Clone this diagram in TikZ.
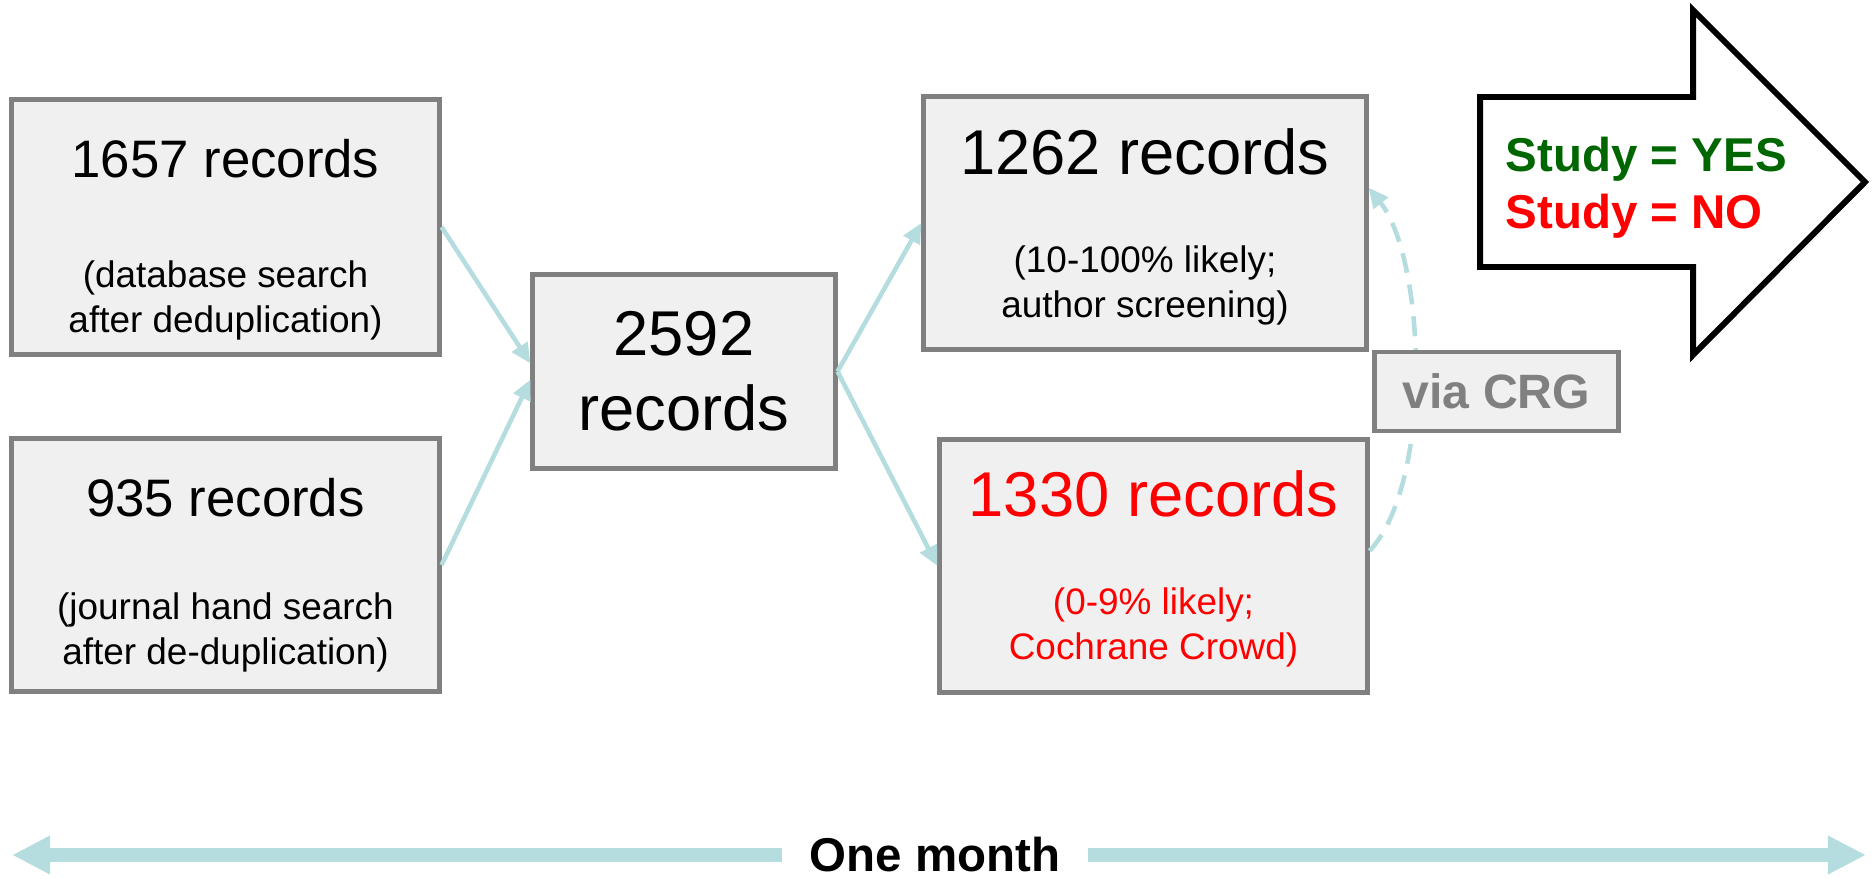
\documentclass[tikz,border=0pt]{standalone}
\usepackage{fontspec}
\setmainfont{Liberation Sans}
\usetikzlibrary{arrows.meta}
\definecolor{boxfill}{RGB}{240,240,240}
\definecolor{boxline}{RGB}{128,128,128}
\definecolor{linkblue}{RGB}{181,221,224}
\definecolor{yesgreen}{RGB}{0,102,0}

\begin{document}
\begin{tikzpicture}[
    x=0.01cm, y=-0.01cm,
    record/.style={rectangle, draw=boxline, line width=1.4pt, fill=boxfill, inner sep=0pt},
    headline/.style={font=\fontsize{15}{18}\selectfont},
    bighead/.style={font=\fontsize{18}{21.3}\selectfont, align=center},
    remark/.style={font=\fontsize{10.5}{12.6}\selectfont, align=center},
    link/.style={draw=linkblue, line width=1.3pt, -{Triangle[length=0.2cm,width=0.18cm]}},
    crgpath/.style={link, dash pattern=on 0.2cm off 0.12cm},
    timeline/.style={draw=linkblue, line width=4pt, -{Triangle[length=0.38cm,width=0.36cm]}}
  ]
    \useasboundingbox (0,0) rectangle (1875,879);

    % Sources
    \node[record, minimum width=4.27cm, minimum height=2.54cm] (a) at (225.5,227) {};
    \node[headline] at ([yshift=-0.61cm]a.north) {1657 records};
    \node[remark] at ([yshift=-2.03cm]a.north) {(database search\\after deduplication)};

    \node[record, minimum width=4.27cm, minimum height=2.52cm] (b) at (225.5,565) {};
    \node[headline] at ([yshift=-0.61cm]b.north) {935 records};
    \node[remark] at ([yshift=-1.96cm]b.north) {(journal hand search\\after de-duplication)};

    % Pooled
    \node[record, bighead, minimum width=3.02cm, minimum height=1.93cm] (c) at (684,371.5) {2592\\records};

    % Split
    \node[record, minimum width=4.42cm, minimum height=2.52cm] (d) at (1145,223) {};
    \node[bighead] at ([yshift=-0.575cm]d.north) {1262 records};
    \node[remark] at ([yshift=-1.91cm]d.north) {(10-100\% likely;\\author screening)};

    \node[record, minimum width=4.27cm, minimum height=2.52cm] (e) at (1153.5,566) {};
    \node[bighead, text=red] at ([yshift=-0.56cm]e.north) {1330 records};
    \node[remark, text=red] at ([yshift=-1.9cm]e.north) {(0-9\% likely;\\Cochrane Crowd)};

    % Flow
    \draw[link] (a.east) -- (c.177);
    \draw[link] (b.east) -- (c.183);
    \draw[link] (c.east) -- (d.west);
    \draw[link] (c.east) -- (e.west);
    \draw[crgpath] (e.4) .. controls +(64,-69) and +(57,72) .. (d.9);
    \node[record, text=boxline, font=\bfseries\fontsize{13.7}{16}\selectfont, minimum width=2.43cm, minimum height=0.79cm] (via) at (1496.5,391.5) {via CRG\hspace{0.18cm}};

    % Outcome
    \draw[line width=1.7pt] (1480,97) -- (1693,97) -- (1693,10) -- (1865,182) -- (1693,355) -- (1693,267) -- (1480,267) -- cycle;
    \node[anchor=west, align=left, inner sep=0pt, font=\bfseries\fontsize{13.5}{16.1}\selectfont] (legend) at (1505,188) {\textcolor{yesgreen}{Study = YES}\\\textcolor{red}{Study = NO}};

    % Time span
    \coordinate (early) at (12,855);
    \coordinate (late) at (1866,855);
    \node[font=\bfseries\fontsize{13.5}{16}\selectfont, inner xsep=0.27cm, inner ysep=0pt] (month) at (935,855) {One month};
    \draw[timeline] (month) -- (early);
    \draw[timeline] (month) -- (late);
  \end{tikzpicture}
\end{document}
